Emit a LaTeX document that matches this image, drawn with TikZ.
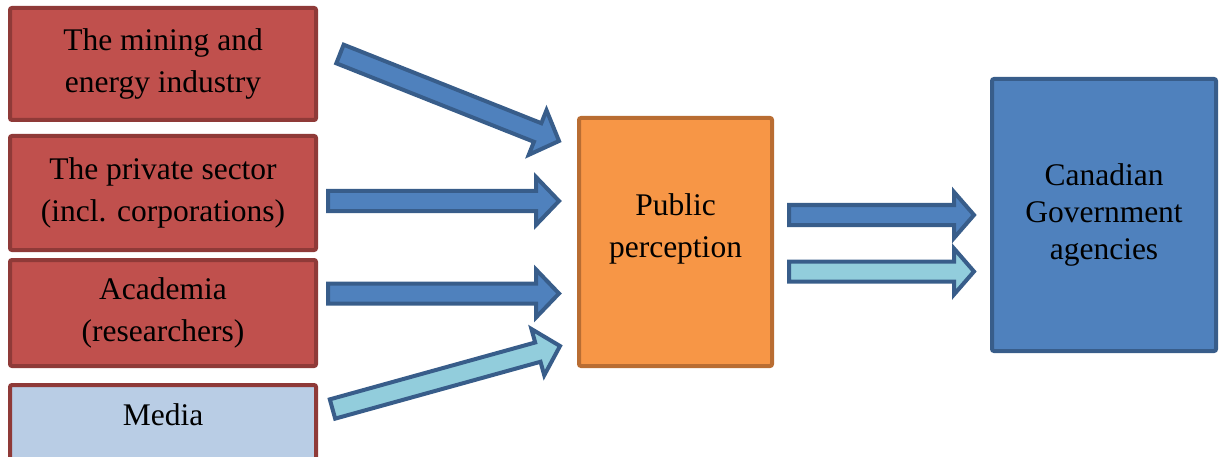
\documentclass[tikz,border=0pt]{standalone}
\usepackage{fontspec}
\setmainfont{Liberation Serif}
\usetikzlibrary{calc}

\definecolor{redfill}{HTML}{C0504D}
\definecolor{redline}{HTML}{8F3A38}
\definecolor{mediafill}{HTML}{B9CDE5}
\definecolor{orangefill}{HTML}{F79646}
\definecolor{orangeline}{HTML}{B96D32}
\definecolor{bluefill}{HTML}{4F81BD}
\definecolor{blueline}{HTML}{385D8A}
\definecolor{lightfill}{HTML}{92CDDC}

% block arrow: style, tail, tip, head half-width, head length
\newcommand\blockarrow[5]{%
  \coordinate (ba-base) at ($(#3)!#5!(#2)$);
  \draw[#1] ($(#2)!10pt!90:(#3)$) -- ($(ba-base)!10pt!90:(#3)$)
    -- ($(ba-base)!#4!90:(#3)$) -- (#3) -- ($(ba-base)!#4!-90:(#3)$)
    -- ($(ba-base)!10pt!-90:(#3)$) -- ($(#2)!10pt!-90:(#3)$) -- cycle;
}

\begin{document}
\begin{tikzpicture}[x=1pt,y=-1pt,
  boxtext/.style={font=\fontsize{31.5}{42}\selectfont, align=center},
  srcbox/.style={boxtext, rectangle, rounded corners=2pt, draw=redline,
    fill=redfill, line width=4pt, minimum width=306pt, inner sep=0pt},
  darkarrow/.style={fill=bluefill, draw=blueline, line width=4pt},
  lightarrow/.style={fill=lightfill, draw=blueline, line width=4pt}]
\clip (0,0) rectangle (1220,457);

% source boxes
\node[srcbox, minimum height=112pt] (mining) at (163,64)
  {The mining and\\energy industry};
\node[srcbox, minimum height=114pt] (private) at (163,193)
  {The private sector\\(incl. corporations)};
\node[srcbox, minimum height=106pt] (academia) at (163,313)
  {Academia\\(researchers)};
\draw[draw=redline, fill=mediafill, line width=4pt, rounded corners=2pt]
  (10,490) rectangle (316,385);
\node[boxtext] (media) at (163,415) {Media};

% public perception
\node[rectangle, rounded corners=2pt, draw=orangeline, fill=orangefill,
  line width=4pt, minimum width=193pt, minimum height=248pt] (public) at (675.5,242) {};
\node[boxtext] (publictext) at ([yshift=13pt]public.center) {Public\\perception};

% government agencies
\node[rectangle, rounded corners=2pt, draw=blueline, fill=bluefill,
  line width=4pt, minimum width=224pt, minimum height=272pt,
  font=\fontsize{31.5}{37}\selectfont, align=center] (gov) at (1104,215)
  {Canadian\\Government\\agencies};

% arrow ends
\coordinate (t1) at (340,54);     \coordinate (p1) at (559,141);
\coordinate (t2) at (328,201);    \coordinate (p2) at (559,201);
\coordinate (t3) at (328,293.5);  \coordinate (p3) at (559,293.5);
\coordinate (t4) at (332.5,409);  \coordinate (p4) at (560,346);
\coordinate (t5) at (789,215);    \coordinate (p5) at (974,215);
\coordinate (t6) at (789,271.5);  \coordinate (p6) at (974,271.5);

\blockarrow{darkarrow}{t1}{p1}{24pt}{23pt}
\blockarrow{darkarrow}{t2}{p2}{24pt}{23pt}
\blockarrow{darkarrow}{t3}{p3}{24pt}{23pt}
\blockarrow{lightarrow}{t4}{p4}{24pt}{23pt}
\blockarrow{darkarrow}{t5}{p5}{23pt}{20pt}
\blockarrow{lightarrow}{t6}{p6}{23pt}{20pt}
\end{tikzpicture}
\end{document}
